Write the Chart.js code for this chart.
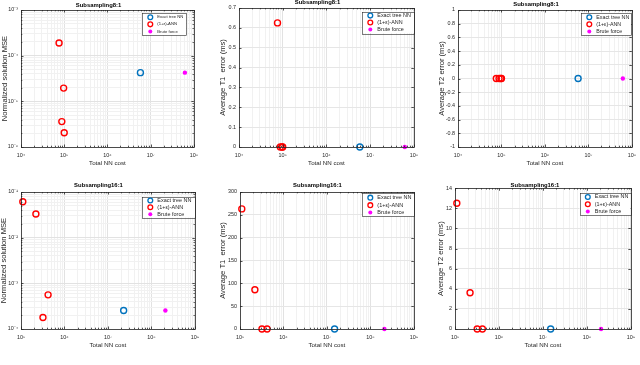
<!DOCTYPE html>
<html>
<head>
<meta charset="utf-8">
<script src="https://cdn.jsdelivr.net/npm/chart.js@4.4.1/dist/chart.umd.min.js"></script>
<style>
html, body { margin: 0; padding: 0; background: #fff; }
body { width: 640px; height: 365px; position: relative; overflow: hidden; }
canvas { position: absolute; }
</style>
</head>
<body>
<script>
const seriesNames = ['Exact tree NN', '(1+\u03b5)-ANN', 'Brute force'];
const seriesColors = ['#0072BD', '#FF0000', '#FF00FF'];
const plotTitles = ['Subsampling8:1', 'Subsampling8:1', 'Subsampling8:1',
                    'Subsampling16:1', 'Subsampling16:1', 'Subsampling16:1'];
const yLabels = ['Normalized solution MSE', 'Average T1  error (ms)', 'Average T2 error (ms)',
                 'Normalized solution MSE', 'Average T1  error (ms)', 'Average T2 error (ms)'];
const xLabel = 'Total NN cost';

// Subsampling 8:1
const exactCost8 = [5.8e6];
const annCost8 = [7.6e4, 9.7e4, 8.8e4, 1.0e5];
const bruteCost8 = [6.2e7];
const exactMse8 = [4.25e-5];
const annMse8 = [1.9e-4, 1.95e-5, 3.6e-6, 2.05e-6];
const bruteMse8 = [4.25e-5];
const exactT1err8 = [0];
const annT1err8 = [0.625, 0, 0, 0];
const bruteT1err8 = [0];
const exactT2err8 = [0];
const annT2err8 = [0, 0, 0, 0];
const bruteT2err8 = [0];

// Subsampling 16:1
const exactCost16 = [1.5e7];
const exactCostMse16 = [2.3e7];
const annCost16 = [1.1e5, 2.2e5, 4.2e5, 3.2e5];
const bruteCost16 = [2.1e8];
const exactMse16 = [2.55e-4];
const annMse16 = [6.1e-2, 3.3e-2, 5.6e-4, 1.78e-4];
const bruteMse16 = [2.55e-4];
const exactT1err16 = [0];
const annT1err16 = [263, 86, 0, 0];
const bruteT1err16 = [0];
const exactT2err16 = [0];
const annT2err16 = [12.5, 3.6, 0, 0];
const bruteT2err16 = [0];

// axis ranges (min, max[, step])
const xRange8 = [1e4, 1e8];
const xRange16 = [1e5, 1e9];
const mseRange8 = [1e-6, 1e-3];
const mseRange16 = [1e-4, 1e-1];
const t1Range8 = [0, 0.7, 0.1];
const t2Range8 = [-1, 1, 0.2];
const t1Range16 = [0, 300, 50];
const t2Range16 = [0, 14, 2];

const FONT = '"Liberation Sans", Arial, Helvetica, sans-serif';
const INK = '#262626';
const tickFont = { family: FONT, size: 5.4 };
const xLabelFont = { family: FONT, size: 6.2, lineHeight: 1.2 };
const yLabelFont = { family: FONT, size: 7.6, lineHeight: 1.2 };

const SUP = { '-': '\u207b', '0': '\u2070', '1': '\u00b9', '2': '\u00b2', '3': '\u00b3', '4': '\u2074',
              '5': '\u2075', '6': '\u2076', '7': '\u2077', '8': '\u2078', '9': '\u2079' };
function isPow10(v) { const e = Math.log10(v); return Math.abs(e - Math.round(e)) < 1e-9; }
function powLabel(v) { return '10' + String(Math.round(Math.log10(v))).split('').map(c => SUP[c]).join(''); }
function logTicks(min, max) {
    const out = [];
    for (let e = Math.round(Math.log10(min)); e < Math.round(Math.log10(max)); e++) {
        for (let s = 1; s < 10; s++) out.push(s * Math.pow(10, e));
    }
    out.push(max);
    return out;
}

// page layout of each axes box (pixels)
const boxes = [
    { L: 21,  T: 10,  R: 197, B: 147, titleY: 5,     yTitleX: 4.5,   xTitleY: 163, leg: [142, 13, 44, 22],      legFont: 4.2 },
    { L: 239, T: 8,   R: 417, B: 147, titleY: 2,     yTitleX: 222.7, xTitleY: 163, leg: [362, 11.5, 52, 21.5],  legFont: 5.4 },
    { L: 458, T: 10,  R: 635, B: 147, titleY: 4,     yTitleX: 441.7, xTitleY: 163, leg: [581, 13, 50, 22],      legFont: 5.3 },
    { L: 21,  T: 192, R: 198, B: 329, titleY: 185.3, yTitleX: 4,     xTitleY: 345, leg: [142, 196.5, 53, 21],   legFont: 5.5 },
    { L: 240, T: 192, R: 417, B: 329, titleY: 185,   yTitleX: 222.7, xTitleY: 345, leg: [362, 193.3, 52, 23],   legFont: 5.5 },
    { L: 455, T: 188, R: 634, B: 329, titleY: 184.7, yTitleX: 440.7, xTitleY: 345, leg: [579.5, 192.7, 51, 22.3], legFont: 5.4 }
];

// axes frame, inward ticks and boxed legend like the original figure
const framePlugin = {
    id: 'frame',
    afterDraw(chart, args, opts) {
        const { ctx, chartArea: a } = chart;
        const xs = chart.scales.x, ys = chart.scales.y;
        ctx.save();
        ctx.strokeStyle = INK;
        ctx.lineWidth = 0.8;
        ctx.beginPath();
        xs.ticks.forEach(t => {
            const px = Math.round(xs.getPixelForValue(t.value)) + 0.5;
            const len = isPow10(t.value) ? 2.5 : 1.3;
            ctx.moveTo(px, a.bottom); ctx.lineTo(px, a.bottom - len);
            ctx.moveTo(px, a.top); ctx.lineTo(px, a.top + len);
        });
        ys.ticks.forEach(t => {
            const py = Math.round(ys.getPixelForValue(t.value)) + 0.5;
            const len = (ys.type !== 'logarithmic' || isPow10(t.value)) ? 2.5 : 1.3;
            ctx.moveTo(a.left, py); ctx.lineTo(a.left + len, py);
            ctx.moveTo(a.right, py); ctx.lineTo(a.right - len, py);
        });
        ctx.stroke();
        ctx.strokeRect(Math.round(a.left) + 0.5, Math.round(a.top) + 0.5,
                       Math.round(a.right - a.left), Math.round(a.bottom - a.top));

        const [lx, ly, lw, lh] = opts.box;
        ctx.fillStyle = '#fff';
        ctx.fillRect(lx, ly, lw, lh);
        ctx.lineWidth = 0.6;
        ctx.strokeRect(Math.round(lx) + 0.5, Math.round(ly) + 0.5, Math.round(lw), Math.round(lh));
        ctx.font = opts.font + 'px ' + FONT;
        ctx.textBaseline = 'middle';
        chart.data.datasets.forEach((d, i) => {
            const cy = ly + lh * (0.19 + 0.325 * i);
            ctx.beginPath();
            if (i === 2) {
                ctx.fillStyle = d.borderColor;
                ctx.arc(lx + 8.3, cy, 2, 0, Math.PI * 2);
                ctx.fill();
            } else {
                ctx.strokeStyle = d.borderColor;
                ctx.lineWidth = 1.3;
                ctx.arc(lx + 8.3, cy, 2.4, 0, Math.PI * 2);
                ctx.stroke();
            }
            ctx.fillStyle = INK;
            ctx.fillText(d.label, lx + 15.3, cy);
        });
        ctx.restore();
    }
};

function dataset(i, xs, ys) {
    const filled = i === 2;
    return {
        label: seriesNames[i],
        data: xs.map((x, k) => ({ x: x, y: ys[k] })),
        pointStyle: 'circle',
        pointRadius: filled ? 2.2 : 3,
        pointBorderWidth: filled ? 0 : 1.4,
        borderColor: seriesColors[i],
        backgroundColor: filled ? seriesColors[i] : 'rgba(0,0,0,0)',
        showLine: false,
        clip: false
    };
}

function logAxis(range, fitFn) {
    return {
        type: 'logarithmic',
        min: range[0],
        max: range[1],
        afterBuildTicks: s => { s.ticks = logTicks(range[0], range[1]).map(v => ({ value: v, major: isPow10(v) })); },
        afterFit: fitFn,
        ticks: { autoSkip: false, maxRotation: 0, minRotation: 0, color: INK, font: tickFont,
                 callback: v => isPow10(v) ? powLabel(v) : '' },
        grid: { drawTicks: false, lineWidth: 1,
                color: c => (c.tick && isPow10(c.tick.value)) ? '#e2e2e2' : '#f1f1f1' },
        border: { display: false }
    };
}

function linAxis(range, fitFn) {
    return {
        type: 'linear',
        min: range[0],
        max: range[1],
        afterFit: fitFn,
        ticks: { stepSize: range[2], autoSkip: false, color: INK, font: tickFont,
                 callback: v => String(Math.round(v * 1000) / 1000) },
        grid: { drawTicks: false, lineWidth: 1, color: '#e6e6e6' },
        border: { display: false }
    };
}

const plots = [
    { x: xRange8, y: mseRange8, yLog: true, sets: [[exactCost8, exactMse8], [annCost8, annMse8], [bruteCost8, bruteMse8]] },
    { x: xRange8, y: t1Range8, yLog: false, sets: [[exactCost8, exactT1err8], [annCost8, annT1err8], [bruteCost8, bruteT1err8]] },
    { x: xRange8, y: t2Range8, yLog: false, sets: [[exactCost8, exactT2err8], [annCost8, annT2err8], [bruteCost8, bruteT2err8]] },
    { x: xRange16, y: mseRange16, yLog: true, sets: [[exactCostMse16, exactMse16], [annCost16, annMse16], [bruteCost16, bruteMse16]] },
    { x: xRange16, y: t1Range16, yLog: false, sets: [[exactCost16, exactT1err16], [annCost16, annT1err16], [bruteCost16, bruteT1err16]] },
    { x: xRange16, y: t2Range16, yLog: false, sets: [[exactCost16, exactT2err16], [annCost16, annT2err16], [bruteCost16, bruteT2err16]] }
];

plots.forEach((p, n) => {
    const b = boxes[n];
    const cl = Math.round(b.yTitleX - yLabelFont.size * 0.6);
    const ct = Math.round(b.titleY - 3);
    const cw = Math.round(b.R + 6 - cl);
    const ch = Math.round(b.xTitleY + xLabelFont.size * 0.6 - ct);
    const canvas = document.createElement('canvas');
    canvas.width = cw;
    canvas.height = ch;
    canvas.style.left = cl + 'px';
    canvas.style.top = ct + 'px';
    canvas.style.width = cw + 'px';
    canvas.style.height = ch + 'px';
    document.body.appendChild(canvas);

    const xAxis = logAxis(p.x, s => { s.height = ct + ch - b.B; });
    xAxis.ticks.padding = 5;
    xAxis.title = { display: true, text: xLabel, color: INK, font: xLabelFont, padding: 0 };
    const yFit = s => { s.width = b.L - cl; };
    const yAxis = p.yLog ? logAxis(p.y, yFit) : linAxis(p.y, yFit);
    yAxis.ticks.padding = 3;
    yAxis.title = { display: true, text: yLabels[n], color: INK, font: yLabelFont, padding: 0 };

    new Chart(canvas, {
        type: 'scatter',
        data: { datasets: p.sets.map((s, i) => dataset(i, s[0], s[1])) },
        options: {
            responsive: false,
            animation: false,
            devicePixelRatio: 1,
            layout: { padding: { left: 0, top: 0, right: 6, bottom: 0 } },
            scales: { x: xAxis, y: yAxis },
            plugins: {
                legend: { display: false },
                tooltip: { enabled: false },
                title: {
                    display: true,
                    text: plotTitles[n],
                    color: '#000',
                    font: { family: FONT, size: 5.9, weight: 'bold', lineHeight: '6px' },
                    padding: { top: 0, bottom: b.T - ct - 6 }
                },
                frame: { box: [b.leg[0] - cl, b.leg[1] - ct, b.leg[2], b.leg[3]], font: b.legFont }
            }
        },
        plugins: [framePlugin]
    });
});
</script>
</body>
</html>
